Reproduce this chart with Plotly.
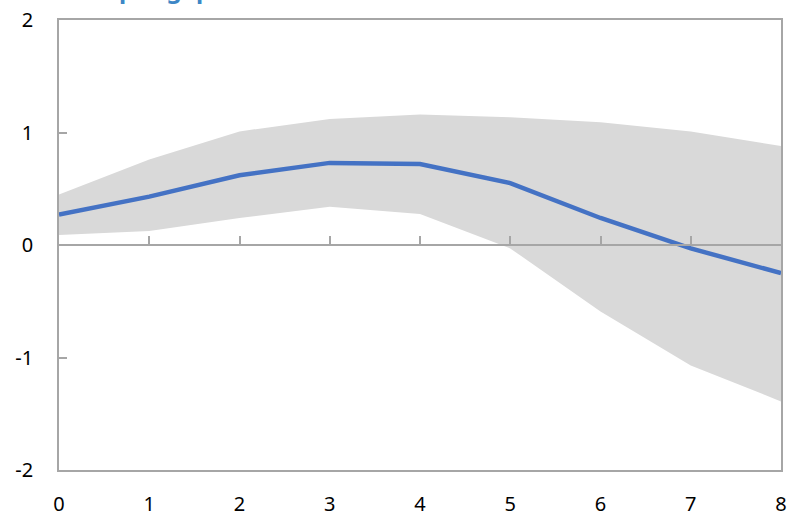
import plotly.graph_objects as go

horizons = [0, 1, 2, 3, 4, 5, 6, 7, 8]
median = [0.27, 0.43, 0.62, 0.73, 0.72, 0.55, 0.24, -0.03, -0.25]
upper = [0.45, 0.76, 1.01, 1.12, 1.16, 1.135, 1.09, 1.01, 0.88]
lower = [0.09, 0.125, 0.24, 0.34, 0.275, -0.03, -0.59, -1.07, -1.39]
y_ticks = [-2, -1, 0, 1, 2]
y_tick_labels = ["-2", "-1", "0", "1", "2"]
title_text = "Output gap"

FONT = "Noto Sans"
GRAY = "#a6a6a6"

fig = go.Figure()
fig.add_trace(go.Scatter(x=horizons, y=upper, mode="lines", line=dict(width=0),
                         showlegend=False, hoverinfo="skip"))
fig.add_trace(go.Scatter(x=horizons, y=lower, mode="lines", line=dict(width=0),
                         fill="tonexty", fillcolor="#d9d9d9",
                         showlegend=False, hoverinfo="skip"))
fig.add_trace(go.Scatter(x=horizons, y=median, mode="lines",
                         line=dict(color="#4472c4", width=4.5), showlegend=False))
# invisible trace for the zero-line axis with upward ticks
fig.add_trace(go.Scatter(x=horizons, y=[0]*len(horizons), mode="lines",
                         line=dict(width=0), xaxis="x2", showlegend=False,
                         hoverinfo="skip"))

fig.update_layout(
    width=789, height=516,
    margin=dict(l=59, r=8, t=20, b=46, autoexpand=False),
    plot_bgcolor="white", paper_bgcolor="white",
    font=dict(family=FONT, size=20, color="#000000"),
    xaxis=dict(range=[0, 8], tickvals=horizons, ticks="", showgrid=False,
               zeroline=False, showline=True, linecolor=GRAY, linewidth=1.5,
               mirror=True, ticklabelstandoff=15, automargin=False),
    xaxis2=dict(range=[0, 8], tickvals=horizons, overlaying="x", anchor="free",
                position=0.5, side="bottom", ticks="inside", ticklen=8,
                tickcolor=GRAY, tickwidth=1.5, showticklabels=False,
                showline=True, linecolor=GRAY, linewidth=1.5, showgrid=False,
                zeroline=False, automargin=False),
    yaxis=dict(range=[-2, 2], tickvals=y_ticks, ticktext=y_tick_labels,
               ticks="inside", ticklen=8,
               tickcolor=GRAY, tickwidth=1.5, showgrid=False, zeroline=False,
               showline=True, linecolor=GRAY, linewidth=1.5, mirror=True,
               ticklabelstandoff=20, automargin=False),
    annotations=[dict(text=f"<b>{title_text}</b>", xref="paper", yref="paper",
                      x=0.02, y=1.03, xanchor="left", yanchor="bottom",
                      showarrow=False, borderpad=0,
                      font=dict(family=FONT, size=24, color="#3d87c6"))],
)

fig.write_html("out.html")
